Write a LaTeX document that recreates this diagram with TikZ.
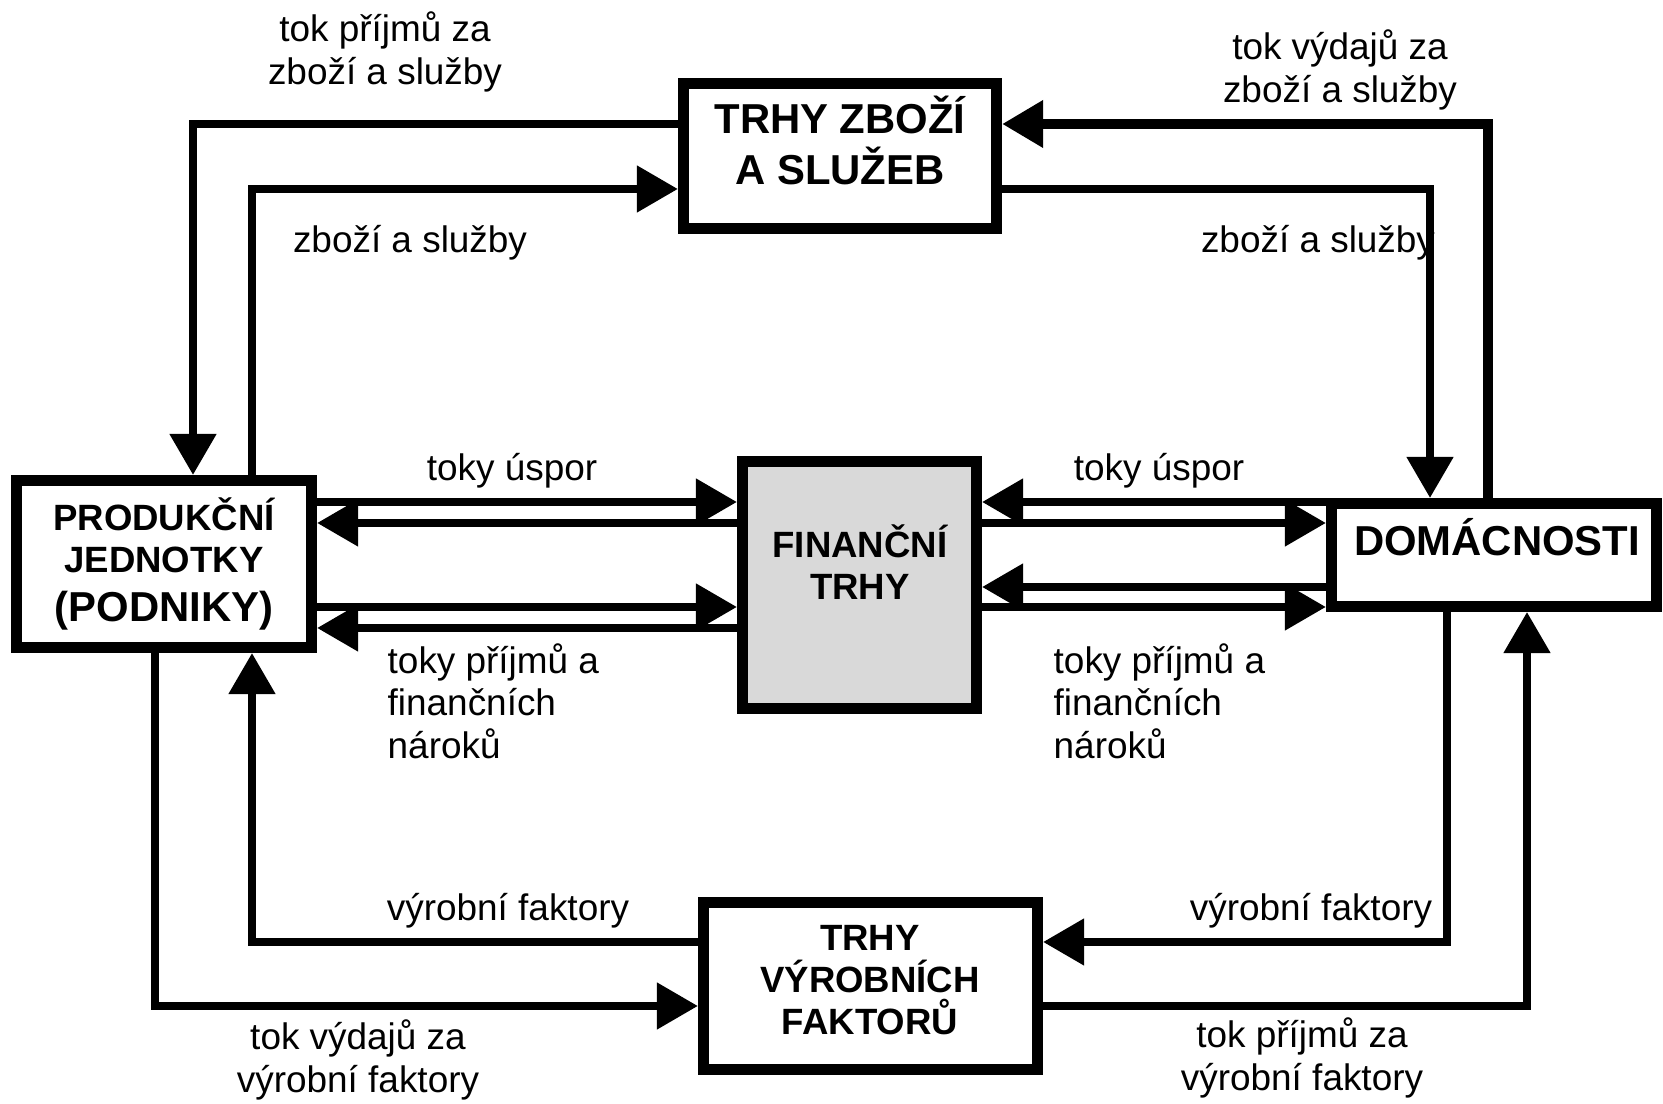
\documentclass[tikz,border=0pt]{standalone}
\usepackage{fontspec}
\setmainfont{Liberation Sans}
\usetikzlibrary{arrows.meta}

\definecolor{finfill}{RGB}{217,217,217}

\begin{document}
\begin{tikzpicture}[x=0.01cm, y=-0.01cm,
  box/.style={draw=black, line width=0.11cm, fill=white, inner sep=0pt},
  boxtext/.style={font=\bfseries\fontsize{10.4}{12}\selectfont, align=center, inner sep=0pt},
  bigtext/.style={font=\bfseries\fontsize{11.9}{14.5}\selectfont, align=center, inner sep=0pt},
  lbl/.style={font=\fontsize{10.5}{12.1}\selectfont, align=center, inner sep=0pt},
  lbll/.style={font=\fontsize{10.5}{12.1}\selectfont, align=left, inner sep=0pt, anchor=west},
  flow/.style={line width=0.08cm, line join=miter, -{Triangle[length=0.41cm,width=0.45cm]}},
]
\useasboundingbox (0,0) rectangle (1663,1104);

% --- boxes -------------------------------------------------------------
\node[box, minimum width=3.13cm, minimum height=1.45cm] (tz) at (840,156) {};
\node[box, minimum width=2.95cm, minimum height=1.67cm] (prod) at (164,564) {};
\node[box, fill=finfill, minimum width=2.34cm, minimum height=2.47cm] (fin) at (859.5,585) {};
\node[box, minimum width=3.25cm, minimum height=1.03cm] (dom) at (1494,555) {};
\node[box, minimum width=3.34cm, minimum height=1.67cm] (fak) at (870.5,986) {};

% --- box captions ------------------------------------------------------
\node[bigtext] (tzt) at (840,140) {TRHY ZBOŽÍ\\A SLUŽEB};
\node[boxtext] (prodt) at (164,535) {PRODUKČNÍ\\JEDNOTKY};
\node[bigtext] (prodp) at (164,611) {(PODNIKY)};
\node[boxtext] (fint) at (860,562) {FINANČNÍ\\TRHY};
\node[bigtext] (domt) at (1497,537) {DOMÁCNOSTI};
\node[boxtext] (fakt) at (870,980) {TRHY\\VÝROBNÍCH\\FAKTORŮ};

% --- turning points of the outer loops -----------------------------------
\coordinate (tl1) at (193,124);
\coordinate (tl2) at (252,189);
\coordinate (tr1) at (1488,124);
\coordinate (tr2) at (1430,189);
\coordinate (bl1) at (155,1006);
\coordinate (bl2) at (252,942);
\coordinate (br1) at (1447,942);
\coordinate (br2) at (1527,1006);

% market for goods and services
\draw[flow] (tl1 -| tz.west) -| (tl1 |- prod.north);
\draw[flow] (tl2 |- prod.north) |- (tl2 -| tz.west);
\draw[flow, line width=0.1cm] (tr1 |- dom.north) |- (tr1 -| tz.east);
\draw[flow] (tr2 -| tz.east) -| (tr2 |- dom.north);

% market for factors of production
\draw[flow] (bl1 |- prod.south) |- (bl1 -| fak.west);
\draw[flow] (bl2 -| fak.west) -| (bl2 |- prod.south);
\draw[flow] (br1 |- dom.south) |- (br1 -| fak.east);
\draw[flow] (br2 -| fak.east) -| (br2 |- dom.south);

% financial flows
\coordinate (m1) at (0,502);
\coordinate (m2) at (0,523);
\coordinate (m3) at (0,607);
\coordinate (m4) at (0,628);
\coordinate (m5) at (0,587);
\draw[flow] (m1 -| prod.east) -- (m1 -| fin.west);
\draw[flow] (m2 -| fin.west) -- (m2 -| prod.east);
\draw[flow] (m3 -| prod.east) -- (m3 -| fin.west);
\draw[flow] (m4 -| fin.west) -- (m4 -| prod.east);
\draw[flow] (m1 -| dom.west) -- (m1 -| fin.east);
\draw[flow] (m2 -| fin.east) -- (m2 -| dom.west);
\draw[flow] (m5 -| dom.west) -- (m5 -| fin.east);
\draw[flow] (m3 -| fin.east) -- (m3 -| dom.west);

% --- flow labels ---------------------------------------------------------
\node[lbl] (l1) at (385,52) {tok příjmů za\\zboží a služby};
\node[lbl] (l2) at (1340,70) {tok výdajů za\\zboží a služby};
\node[lbl] (l3) at (410,243) {zboží a služby};
\node[lbl] (l4) at (1318,243) {zboží a služby};
\node[lbl] (l5) at (512,471) {toky úspor};
\node[lbl] (l6) at (1159,471) {toky úspor};
\node[lbll] (l7) at (387,701) {toky příjmů a\\finančních\\nároků};
\node[lbll] (l8) at (1053,701) {toky příjmů a\\finančních\\nároků};
\node[lbl] (l9) at (508,911) {výrobní faktory};
\node[lbl] (l10) at (1311,911) {výrobní faktory};
\node[lbl] (l11) at (358,1060) {tok výdajů za\\výrobní faktory};
\node[lbl] (l12) at (1302,1058) {tok příjmů za\\výrobní faktory};
\end{tikzpicture}
\end{document}
